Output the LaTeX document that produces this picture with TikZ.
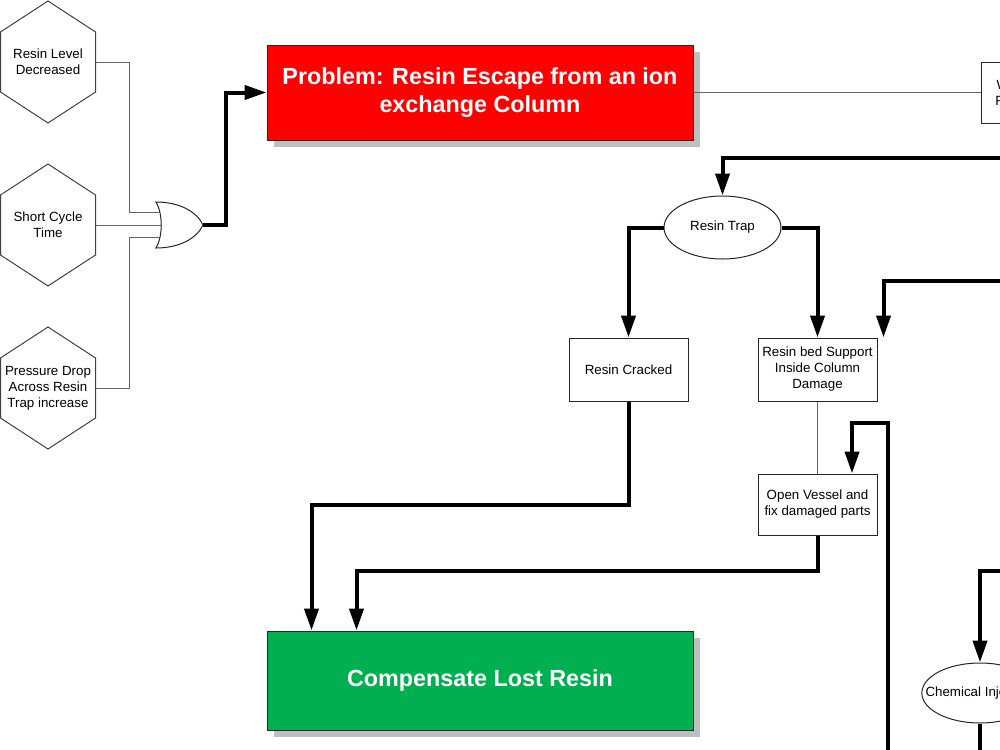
\documentclass[tikz,border=0pt]{standalone}
\usepackage{fontspec}
\setmainfont{Liberation Sans}
\usetikzlibrary{arrows.meta, shapes.geometric, shadows}
\definecolor{problemred}{RGB}{255, 0, 0}
\definecolor{fixgreen}{RGB}{0, 176, 80}
\definecolor{linkgrey}{RGB}{100, 100, 100}

\tikzset{
    causebox/.style={draw=black!85, line width=0.75pt, fill=white, minimum width=89.25pt,
        minimum height=47.25pt, inner sep=2pt, align=center, font=\fontsize{10}{12}\selectfont},
    causeoval/.style={ellipse, draw=black!85, line width=0.75pt, fill=white, inner sep=0pt,
        align=center, font=\fontsize{10}{12}\selectfont},
    hexlabel/.style={minimum width=71.25pt, minimum height=91.5pt, inner sep=0pt,
        align=center, font=\fontsize{10}{12}\selectfont},
    hexline/.style={draw=black!75, line width=0.75pt},
    gateline/.style={draw=black!85, line width=0.75pt, fill=white},
    bigbox/.style={draw=black!85, line width=0.75pt, minimum width=319.5pt, align=center,
        text=white, font=\fontsize{17.5}{21}\selectfont\bfseries,
        drop shadow={shadow xshift=5.25pt, shadow yshift=-5.25pt, fill=black!25, opacity=1}},
    thinlink/.style={draw=linkgrey, line width=0.75pt},
    thicklink/.style={draw=black, line width=3pt, -{Triangle[length=16.5pt, width=10.5pt]}},
}

% hexagon round a cause label
\newcommand\hexframe[1]{%
    \draw[hexline] (#1.center) ++(0,-61) -- ++(47.5,31) -- ++(0,60) -- ++(-47.5,31)
        -- ++(-47.5,-31) -- ++(0,-60) -- cycle;}

\begin{document}
\begin{tikzpicture}[x=0.75pt, y=-0.75pt]
    \path[use as bounding box, clip] (0,0) rectangle (1000,750);

    % Block 1: symptoms
    \node[hexlabel] (lvl) at (48,62) {Resin Level\\Decreased};
    \node[hexlabel] (cyc) at (48,225) {Short Cycle\\Time};
    \node[hexlabel] (dp) at (48,388) {Pressure Drop\\Across Resin\\Trap increase};
    \hexframe{lvl}
    \hexframe{cyc}
    \hexframe{dp}

    % OR gate
    \draw[gateline] (156,202) .. controls (180,202) and (197,212) .. (203,225)
        .. controls (197,238) and (180,248) .. (156,248)
        .. controls (163,236) and (163,214) .. cycle;
    \coordinate (gin1) at (159.5,212);
    \coordinate (gin2) at (161,225);
    \coordinate (gin3) at (159.5,237);
    \coordinate (gout) at (203,225);
    \draw[thinlink] (lvl.east) -- ++(34,0) |- (gin1);
    \draw[thinlink] (cyc.east) -- (gin2);
    \draw[thinlink] (dp.east) -- ++(34,0) |- (gin3);

    % Block 2: problem
    \node[bigbox, fill=problemred, minimum height=71.25pt] (problem) at (480,92.5)
        {Problem: Resin Escape from an ion\\exchange Column};
    \draw[thicklink] (gout) -- ++(23,0) |- (problem.west);

    \node[causebox, minimum height=45.75pt] (wbox) at (1040.5,92.5) {Worn Collector\\Resin Removal};
    \draw[thinlink] (problem.east) -- (wbox.west);

    % Block 3: resin trap branch
    \node[causeoval, minimum width=87.75pt, minimum height=47.25pt] (trap) at (722.5,227.5) {Resin Trap};
    \node[causebox] (cracked) at (628.5,369.5) {Resin Cracked};
    \node[causebox] (bed) at (817.5,369.5) {Resin bed Support\\Inside Column\\Damage};
    \node[causebox, minimum height=45.75pt] (vessel) at (817.5,504.5) {Open Vessel and\\fix damaged parts};
    \node[causeoval, minimum width=87pt, minimum height=45pt, inner xsep=-10pt] (chem) at (980,693)
        {Chemical Injection};

    \coordinate (fromTrap) at (1010,158);
    \coordinate (fromBed) at (1010,281);
    \coordinate (fromVessel) at (888,760);
    \coordinate (fromChem) at (1010,571);
    \coordinate (toBelow) at (980,760);

    \draw[thicklink] (fromTrap) -| (trap.north);
    \draw[thicklink] (trap.west) -| (cracked.north);
    \draw[thicklink] (trap.east) -| (bed.north);
    \draw[thicklink] (fromBed) -| ([xshift=4.5pt]bed.north east);
    \draw[thinlink] (bed.south) -- (vessel.north);
    \draw[thicklink] (fromVessel) -- ++(0,-337) -| ([xshift=25.9pt]vessel.north);
    \draw[thicklink] (fromChem) -| (chem.north);
    \draw[thicklink, -] (chem.south) -- (toBelow);

    % Block 4: fix
    \node[bigbox, fill=fixgreen, minimum height=74.25pt] (compensate) at (480,680.5)
        {Compensate Lost Resin};
    \draw[thicklink] (cracked.south) -- ++(0,103) -| ([xshift=33.75pt]compensate.north west);
    \draw[thicklink] (vessel.south) -- ++(0,35) -| ([xshift=67.5pt]compensate.north west);
\end{tikzpicture}
\end{document}
